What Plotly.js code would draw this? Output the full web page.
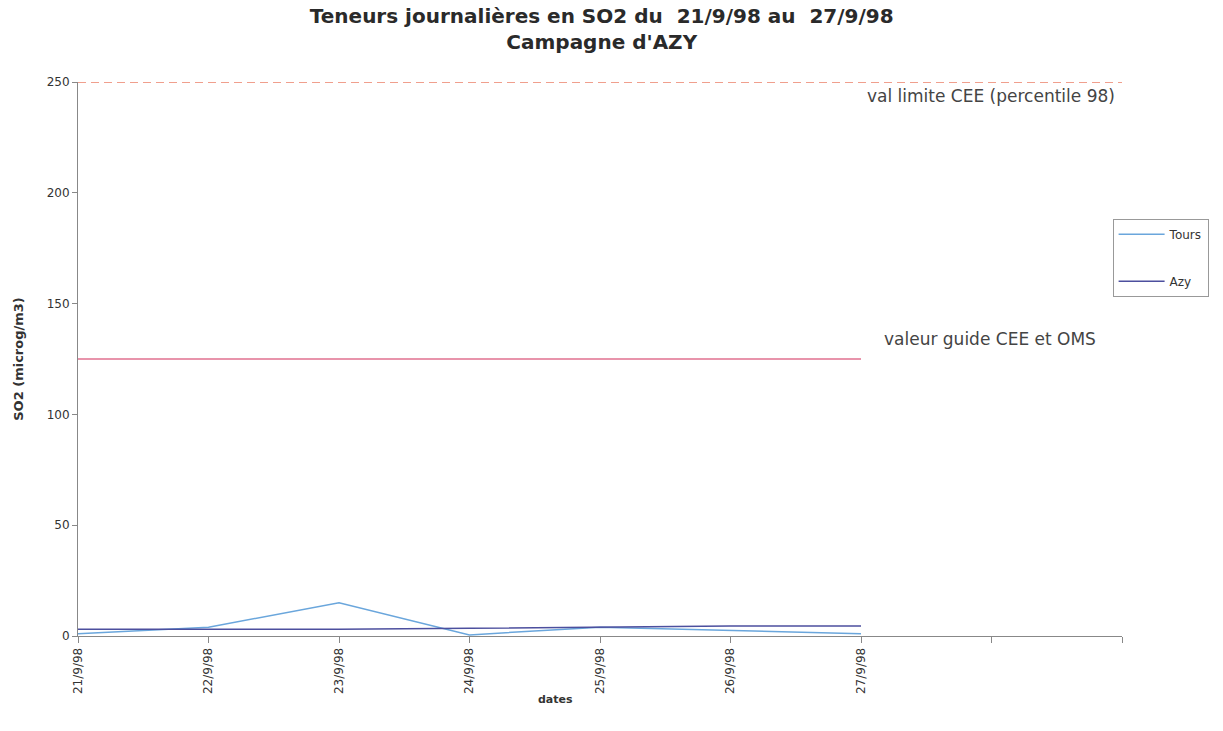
<!DOCTYPE html>
<html>
<head>
<meta charset="utf-8">
<script src="https://cdn.plot.ly/plotly-3.0.1.min.js"></script>
<style>html,body{margin:0;padding:0;background:#fff;}#chart{width:1223px;height:731px;}</style>
</head>
<body>
<div id="chart"></div>
<script>
const dates = ["21/9/98","22/9/98","23/9/98","24/9/98","25/9/98","26/9/98","27/9/98"];
const extraTicks = ["",""];
const tours = [1, 4, 15, 0.5, 4, 2.5, 1];
const azy = [3, 3, 3, 3.5, 4, 4.5, 4.5];
const limiteCEE = 250;
const guideCEE = 125;
const limiteLabel = "val limite CEE (percentile 98)";
const guideLabel = "valeur guide CEE et OMS";

const tickLabels = dates.concat(extraTicks);
const idx = tickLabels.map((_, i) => i);
const dataIdx = dates.map((_, i) => i);
const lastIdx = idx[idx.length - 1];

const FONT = "DejaVu Sans, Liberation Sans, Arial, sans-serif";

const traces = [
  {x: idx, y: idx.map(() => limiteCEE), mode: "lines", showlegend: false, hoverinfo: "skip",
   line: {color: "#ec8068", width: 1.3, dash: "8px,5px"}},
  {x: dataIdx, y: dataIdx.map(() => guideCEE), mode: "lines", showlegend: false, hoverinfo: "skip",
   line: {color: "#e0708f", width: 1.3}},
  {x: dataIdx, y: tours, name: "Tours", mode: "lines", legendgroup: "a",
   line: {color: "#6aa6dc", width: 1.5}},
  {x: dataIdx, y: azy, name: "Azy", mode: "lines", legendgroup: "b",
   line: {color: "#4c4f9e", width: 1.5}}
];

const layout = {
  width: 1223, height: 731,
  paper_bgcolor: "#fff", plot_bgcolor: "#fff",
  margin: {l: 78, r: 101, t: 82, b: 95},
  font: {family: FONT, color: "#333"},
  title: {
    text: "<b>Teneurs journalières en SO2 du  21/9/98 au  27/9/98<br>Campagne d'AZY</b>",
    font: {size: 20, color: "#2a2a2a", family: FONT},
    x: 0.492, xanchor: "center", y: 0.968, yanchor: "middle"
  },
  xaxis: {
    type: "linear", range: [0, lastIdx],
    tickmode: "array", tickvals: idx, ticktext: tickLabels,
    tickangle: -90, tickfont: {size: 12, color: "#333"},
    showline: true, linecolor: "#888", linewidth: 1,
    ticks: "outside", ticklen: 6, tickcolor: "#888",
    showgrid: false, zeroline: false
  },
  yaxis: {
    range: [0, 250], dtick: 50, tick0: 0,
    tickfont: {size: 12, color: "#333"},
    showline: true, linecolor: "#888", linewidth: 1,
    ticks: "outside", ticklen: 5, tickcolor: "#888",
    showgrid: false, zeroline: false,
    title: {text: "<b>SO2 (microg/m3)</b>", font: {size: 13, color: "#333"}, standoff: 20}
  },
  legend: {
    x: 0.991, xanchor: "left", y: 0.753, yanchor: "top",
    bordercolor: "#999", borderwidth: 1, bgcolor: "#fff",
    font: {size: 12, color: "#333"}, tracegroupgap: 28,
    itemwidth: 46
  },
  annotations: [
    {x: 0.457, y: -0.115, xref: "paper", yref: "paper", text: "<b>dates</b>", showarrow: false,
     xanchor: "center", yanchor: "middle", font: {size: 11, color: "#333"}},
    {x: 6.03, y: limiteCEE - 6.5, xref: "x", yref: "y", text: limiteLabel, showarrow: false,
     xanchor: "left", yanchor: "middle", font: {size: 17, color: "#444"}},
    {x: 6.16, y: guideCEE + 9, xref: "x", yref: "y", text: guideLabel, showarrow: false,
     xanchor: "left", yanchor: "middle", font: {size: 17, color: "#444"}}
  ]
};

Plotly.newPlot("chart", traces, layout, {displayModeBar: false, staticPlot: true});
</script>
</body>
</html>
